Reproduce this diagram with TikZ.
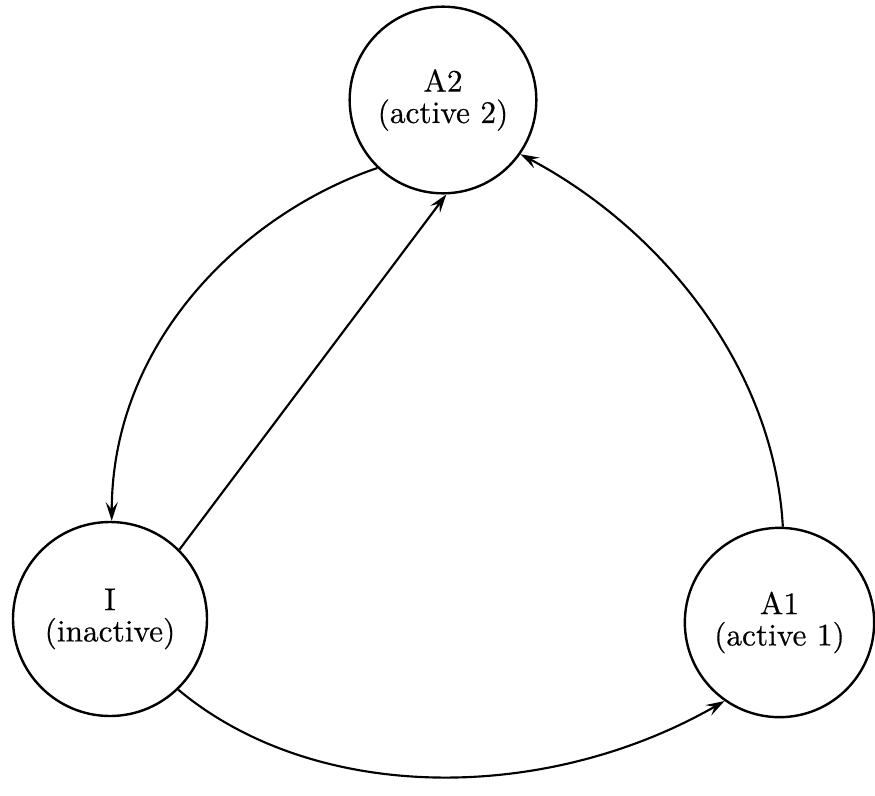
\documentclass[tikz,border=0pt]{standalone}
\usepackage{fontspec}
\usetikzlibrary{arrows.meta}
% state labels: 10pt design size of Latin Modern, slightly emboldened
\newfontfamily\statefont{lmroman10-regular.otf}[FakeBold=0.5]
\begin{document}
\begin{tikzpicture}[x=0.75pt,y=-0.75pt,
  state/.style={draw,circle,line width=1.8pt,inner sep=0pt,align=center,
    font=\statefont\fontsize{23.5}{23.5}\selectfont},
  trans/.style={line width=1.6pt,-{Stealth[length=14pt,width=9pt,inset=5.5pt]}}]
\useasboundingbox (0,0) rectangle (875,796);
% states
\node[state,minimum size=140pt] (A2) at (443,100) {A2\\(active 2)};
\node[state,minimum size=145.5pt] (I) at (110,619) {I\\(inactive)};
\node[state,minimum size=142pt] (A1) at (779.5,622.5) {A1\\(active 1)};
% transitions
\draw[trans] (A2.226) .. controls (245,213) and (112,340) .. (I.89);
\draw[trans] (I.45) -- (A2.272);
\draw[trans] (A1.88) .. controls (774,368) and (662,229) .. (A2.-35);
\draw[trans] (I.-46) .. controls (315,804) and (545,804) .. (A1.-125);
\end{tikzpicture}
\end{document}
